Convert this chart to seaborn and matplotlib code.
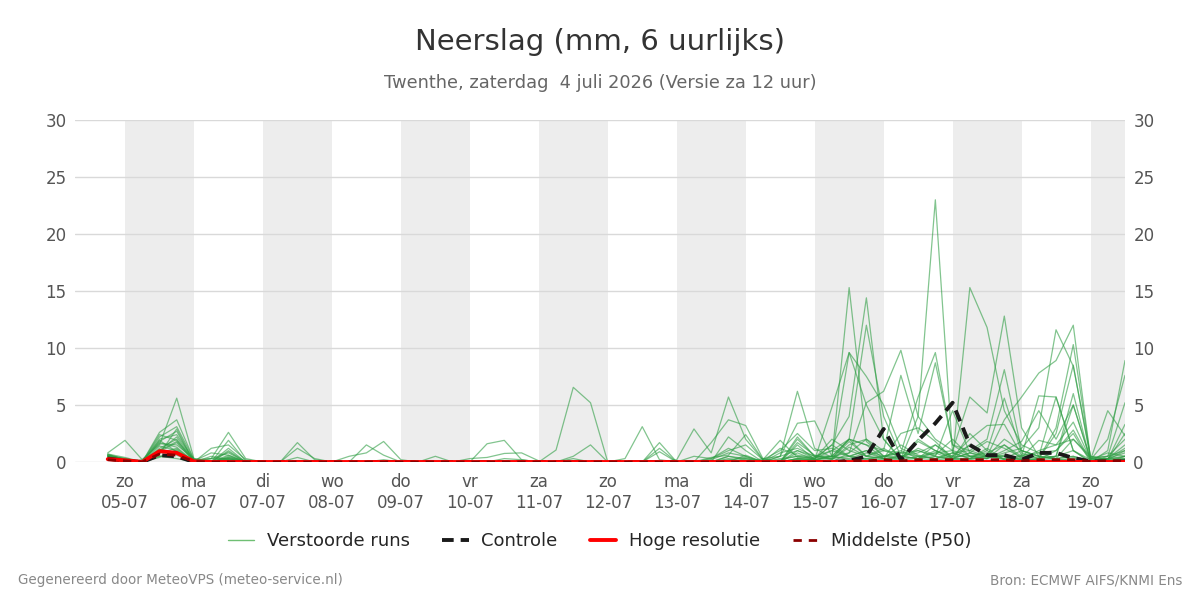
import numpy as np
import pandas as pd
import seaborn as sns
import matplotlib.pyplot as plt
from matplotlib.lines import Line2D

# 6-uurlijkse tijdstappen, in dagen t.o.v. zo 05-07 00:00 (eerste stap za 04-07 18:00)
n_stappen = 60
dagen = [-0.25 + 0.25 * i for i in range(n_stappen)]

dag_namen = ["zo", "ma", "di", "wo", "do", "vr", "za", "zo", "ma", "di", "wo", "do", "vr", "za", "zo"]
datums = ["05-07", "06-07", "07-07", "08-07", "09-07", "10-07", "11-07", "12-07",
          "13-07", "14-07", "15-07", "16-07", "17-07", "18-07", "19-07"]

z = [0.0] * 10  # blok van 10 droge tijdstappen

# verstoorde runs (ensemble leden), 60 waarden per run
run01 = [0.8, 1.9, 0.2, 1.5, 5.6, 0.3, 0.0, 0.4, 0.1, 0.0] + [0, 0, 0, 0, 0, 0, 0.2, 0, 0, 0] + z + \
        [0, 0, 0, 0, 0, 0, 0.5, 0.3, 0, 0.5] + [6.2, 1.2, 0.4, 15.3, 1.8, 0.5, 1.0, 0.3, 1.5, 0.3] + \
        [0.8, 0.4, 0.6, 0.2, 0, 0, 0.4, 0, 0.2, 1.0]
run02 = [0.6, 0.3, 0.0, 2.6, 3.7, 0.2, 0.3, 2.6, 0.3, 0] + z + [0, 0, 0, 0, 0, 0, 1.05, 6.55, 5.2, 0] + \
        [0, 0, 0, 0, 0, 0, 0, 0, 0, 0.3] + [0.5, 0.3, 1.5, 4.0, 14.4, 2.0, 0.2, 0.5, 0.8, 0.2] + \
        [1.5, 0.5, 0.3, 1.0, 0.5, 0.3, 0, 0, 0.3, 0.5]
run03 = [0.5, 0.2, 0, 2.2, 3.1, 0.2, 0, 1.9, 0.1, 0] + [0, 1.7, 0.2, 0, 0, 0, 0, 0, 0, 0] + z + \
        [0, 0, 0, 0, 0, 0, 0.2, 0.4, 0, 0] + [0.8, 0.2, 4.8, 9.6, 5.0, 2.0, 0.3, 4.0, 23.0, 0.8] + \
        [0.3, 1.0, 0.2, 0, 0.3, 3.0, 10.3, 0.4, 0.5, 2.0]
run04 = [0.7, 0.4, 0, 1.8, 2.7, 0, 1.2, 1.5, 0.2, 0] + [0, 0, 0, 0, 0, 1.5, 0.6, 0, 0, 0] + \
        [0, 0, 1.6, 1.9, 0.2, 0, 0, 0, 0, 0] + [0.3, 3.1, 0.2, 0, 0, 0, 0, 0, 0.3, 0.5] + \
        [3.4, 3.6, 0.5, 2.0, 12.0, 4.0, 0.5, 0.3, 1.0, 0.3] + [15.3, 11.8, 4.5, 1.5, 0.8, 0.3, 2.0, 0.3, 0, 0.5]
run05 = [0.6, 0.2, 0, 1.2, 2.0, 0, 0, 1.2, 0, 0] + [0, 0, 0, 0, 0.5, 0.8, 1.8, 0.2, 0, 0] + z + \
        [0, 0, 0, 0.2, 2.9, 0.8, 5.7, 2.0, 0.2, 0] + [0.3, 0.2, 0.5, 0.8, 5.2, 6.2, 9.8, 4.0, 2.0, 1.0] + \
        [5.7, 4.3, 12.8, 3.0, 0.5, 0.2, 0.3, 0, 1.0, 8.9]
run06 = [0.4, 0, 0.2, 1.6, 1.5, 0.3, 0, 0.5, 0, 0] + [0, 1.2, 0.3, 0, 0, 0, 0, 0, 0, 0] + \
        [0, 0.3, 0.4, 0.75, 0.8, 0.1, 0, 0, 0, 0] + [0, 0, 0, 0, 0, 1.7, 3.7, 3.2, 0.3, 0] + \
        [2.0, 0.5, 0.3, 2.0, 1.5, 1.0, 7.6, 2.5, 8.7, 1.5] + [1.0, 2.0, 8.1, 1.0, 0.5, 5.7, 1.0, 0.2, 2.0, 7.6]
run07 = [0.5, 0.3, 0, 1.0, 1.8, 0.1, 0.3, 0.8, 0, 0] + z + z + \
        [0, 0, 1.7, 0, 0, 0, 0, 0, 0, 0.8] + [1.2, 0.5, 0.5, 9.6, 7.5, 5.0, 1.2, 0.5, 0.3, 0.8] + \
        [1.0, 0.5, 3.7, 5.7, 7.8, 8.9, 12.0, 0.3, 0.5, 5.2]
run08 = [0.3, 0, 0, 2.0, 2.4, 0.2, 0, 0.3, 0, 0] + [0, 0, 0, 0, 0, 0, 0, 0, 0, 0.5] + \
        [0, 0, 0, 0, 0, 0, 0, 0.5, 1.5, 0] + [0, 0, 0, 0, 0, 0, 2.2, 1.0, 0, 0] + \
        [0.2, 0, 0.2, 1.5, 2.0, 0.5, 0.8, 5.7, 9.6, 1.5] + [0.5, 0.3, 0.8, 1.2, 3.0, 11.6, 8.4, 0.5, 0.2, 3.3]
run09 = [0.5, 0.1, 0, 1.4, 1.0, 0, 0.5, 0.2, 0, 0] + z + z + \
        [0, 0, 1.2, 0, 0, 0.4, 0.6, 2.4, 0.2, 0] + [1.5, 0.2, 0, 0.8, 2.0, 1.0, 0.5, 1.0, 0.5, 0.2] + \
        [2.5, 1.0, 5.6, 0.8, 0.3, 0.5, 5.0, 0.2, 4.5, 2.3]
run10 = [0.6, 0.2, 0, 0.8, 1.2, 0, 0, 0.2, 0, 0] + z + z + \
        [0, 0, 0.9, 0, 0, 0.3, 1.0, 1.5, 0.2, 1.9] + [0.4, 0.3, 1.0, 2.0, 0.5, 0.3, 1.5, 0.6, 0.3, 0.5] + \
        [0.5, 0.3, 1.5, 0.5, 5.8, 5.7, 1.0, 0, 0.5, 1.0]
run11 = [0.3, 0, 0, 1.0, 2.2, 0.1, 0.8, 0.6, 0, 0] + z + z + \
        [0, 0, 0, 0, 0, 0, 0.5, 0.2, 0, 0] + [2.2, 0.5, 1.0, 0.5, 0.3, 0.5, 0.8, 1.0, 0.5, 4.5] + \
        [0.8, 0.5, 0.2, 0.5, 0.3, 2.5, 8.5, 0.3, 0.3, 1.5]
run12 = [0.2, 0, 0, 0.5, 0.8, 0, 0, 0.3, 0, 0] + z + [0, 0, 0, 0, 0, 0, 0, 0.3, 0, 0] + \
        [0, 0, 0, 0, 0, 0.2, 0.8, 0.5, 0, 1.2] + [0.6, 0.4, 0.3, 1.8, 0.5, 1.2, 0.3, 1.8, 1.0, 0.3] + \
        [0.8, 1.8, 1.2, 0.4, 1.9, 1.5, 3.5, 0.2, 0.8, 0.5]
run13 = [0.6, 0.3, 0, 1.7, 1.3, 0, 0, 0.9, 0, 0] + z + z + \
        [0, 0, 0, 0, 0, 0, 0, 0.3, 0, 0.5] + [1.0, 0.3, 2.0, 1.0, 0.5, 0.3, 0.3, 2.0, 1.0, 0.5] + \
        [2.0, 3.2, 3.3, 0.6, 0.8, 1.0, 2.8, 0.1, 0.2, 2.5]
run14 = [0.4, 0, 0.1, 0.9, 1.7, 0, 0, 0.6, 0, 0] + [0, 0.4, 0, 0, 0, 0, 0, 0, 0, 0] + z + \
        [0, 0, 0, 0, 0.5, 0.3, 1.2, 0.5, 0, 0] + [0.3, 0.2, 0.5, 2.0, 1.5, 0.3, 2.5, 3.0, 1.8, 0.3] + \
        [0.3, 0.3, 1.0, 1.8, 4.5, 2.0, 5.0, 0.2, 0.3, 1.2]
run15 = [0.7, 0.2, 0, 2.4, 1.9, 0.2, 0, 1.0, 0, 0] + z + [0, 0, 0, 0.3, 0.2, 0, 0, 0, 0, 0] + \
        [0, 0, 0, 0, 0, 0, 0.3, 0, 0, 0.2] + [0.5, 0.3, 1.5, 0.5, 0.2, 0.5, 0.3, 1.2, 0.6, 2.0] + \
        [0.5, 0.5, 0.5, 0.3, 1.0, 1.5, 2.0, 0.5, 0.2, 0.5]
run16 = [0.5, 0.2, 0, 1.1, 0.6, 0, 0.3, 0.3, 0, 0] + z + z + \
        [0, 0, 0, 0, 0, 0, 0, 0.6, 0, 0] + [0.2, 0.2, 0.3, 0.5, 1.0, 0.3, 0.5, 0.8, 1.5, 0.5] + \
        [1.5, 0.5, 2.0, 1.0, 0.5, 0.3, 0.5, 0.1, 0.3, 0.3]
run17 = [0.3, 0.1, 0, 0.7, 2.9, 0, 0, 0.2, 0, 0] + z + z + z + \
        [1.0, 0.5, 0.5, 0.3, 0.8, 0.3, 0.2, 0.3, 0.5, 0.2] + [0.3, 0.5, 0.5, 0.2, 0.3, 0.5, 1.0, 0, 0.2, 0.2]
run18 = [0.4, 0, 0, 0.4, 1.1, 0, 0, 0, 0, 0] + z + z + [0, 0, 0, 0, 0, 0, 0, 0, 0.2, 1.0] + \
        [2.5, 1.0, 1.2, 0.5, 1.0, 0.5, 0.5, 0.3, 0.8, 1.0] + [0.5, 0.8, 1.5, 0.3, 0.2, 1.0, 2.5, 0, 0.3, 0.8]
run19 = [0.6, 0.2, 0, 1.9, 0.9, 0.1, 0, 0.4, 0, 0] + z + z + z + \
        [1.7, 0.6, 0.2, 1.3, 0.5, 1.0, 0.8, 0.5, 0.3, 0.8] + [0.3, 1.2, 0.2, 0.6, 0.4, 0.5, 6.0, 0.1, 0.1, 0.3]
run20 = [0.5, 0, 0, 0.5, 0.3, 0, 0, 0, 0, 0] + z + z + z + \
        [0.3, 0.2, 0.5, 0.2, 0.3, 0.2, 0.5, 0.3, 0.2, 0.3] + [0.2, 0.5, 0.3, 0.2, 0.2, 0.3, 0.5, 0, 0.1, 0.2]

runs = [run01, run02, run03, run04, run05, run06, run07, run08, run09, run10,
        run11, run12, run13, run14, run15, run16, run17, run18, run19, run20]

controle = [0.3, 0.1, 0.0, 0.6, 0.5, 0.0] + [0.0] * 37 + \
           [0.1, 0.5, 2.9, 0.2, 1.9, 3.4, 5.2, 1.5, 0.6, 0.6, 0.2, 0.8, 0.8, 0.35, 0.05, 0.05, 0.05]
hoge_resolutie = [0.25, 0.15, 0.0, 0.95, 0.8, 0.05] + [0.0] * 54
p50 = [0.2, 0.1, 0.0, 0.7, 0.6, 0.05] + [0.0] * 37 + \
      [0.1, 0.1, 0.2, 0.1, 0.2, 0.2, 0.2, 0.2, 0.2, 0.2, 0.1, 0.2, 0.2, 0.2, 0.05, 0.1, 0.1]

# long-form tabel voor seaborn
rows = []
for r, waarden in enumerate(runs):
    for d, w in zip(dagen, waarden):
        rows.append({"dag": d, "neerslag": w, "run": r})
df_runs = pd.DataFrame(rows)
df_det = pd.DataFrame({"dag": dagen, "controle": controle, "hres": hoge_resolutie, "p50": p50})

sns.set_theme(style="white")
plt.rcParams['font.family'] = ['DejaVu Sans']

fig = plt.figure(figsize=(12, 6), dpi=100)
ax = fig.add_axes([0.0625, 0.23, 0.875, 0.57])

# grijze banden voor om-en-om dagen
for d in range(0, 15, 2):
    ax.axvspan(d, d + 1, color="#ededed", lw=0, zorder=0)

for yv in range(0, 31, 5):
    ax.axhline(yv, color="#d9d9d9", lw=1, zorder=0.5)

sns.lineplot(data=df_runs, x="dag", y="neerslag", units="run", estimator=None,
             color="#2f9e44", alpha=0.6, lw=0.9, legend=False, ax=ax)
sns.lineplot(data=df_det, x="dag", y="controle", color="#1a1a1a", lw=2.8, linestyle=(0, (3, 1.8)), ax=ax)
sns.lineplot(data=df_det, x="dag", y="hres", color="red", lw=2.8, ax=ax)
sns.lineplot(data=df_det, x="dag", y="p50", color="#8b0000", lw=2, linestyle=(0, (3, 2.5)), ax=ax)

ax.set_xlim(-0.725, 14.5)
ax.set_ylim(0, 30)
ax.set_xticks(range(15))
ax.set_xticklabels([f"{a}\n{b}" for a, b in zip(dag_namen, datums)])
ax.set_yticks(range(0, 31, 5))
ax.set_xlabel("")
ax.set_ylabel("")
ax.tick_params(axis="x", length=5, width=1.2, color="#777777", labelsize=12, labelcolor="#555555", pad=3)
ax.tick_params(axis="y", length=0, labelsize=12, labelcolor="#555555", pad=6)
for s in ax.spines.values():
    s.set_visible(False)

ax2 = ax.twinx()
ax2.set_ylim(0, 30)
ax2.set_yticks(range(0, 31, 5))
ax2.tick_params(axis="y", length=0, labelsize=12, labelcolor="#555555", pad=6)
for s in ax2.spines.values():
    s.set_visible(False)
ax2.grid(False)

fig.text(0.5, 0.93, "Neerslag (mm, 6 uurlijks)", ha="center", va="center", fontsize=21, color="#333333")
fig.text(0.5, 0.862, "Twenthe, zaterdag  4 juli 2026 (Versie za 12 uur)", ha="center", va="center",
         fontsize=12.8, color="#666666")

handles = [
    Line2D([], [], color="#6fbf73", lw=1),
    Line2D([], [], color="#1a1a1a", lw=2.8, linestyle=(0, (3, 1.8))),
    Line2D([], [], color="red", lw=2.8),
    Line2D([], [], color="#8b0000", lw=2, linestyle=(0, (3, 2.5))),
]
labels = ["Verstoorde runs", "Controle", "Hoge resolutie", "Middelste (P50)"]
fig.legend(handles, labels, loc="center", bbox_to_anchor=(0.5, 0.098), ncol=4, frameon=False,
           fontsize=13, handlelength=1.45, handletextpad=0.7, columnspacing=1.8)

fig.text(0.015, 0.033, "Gegenereerd door MeteoVPS (meteo-service.nl)", ha="left", va="center",
         fontsize=9.75, color="#888888")
fig.text(0.985, 0.033, "Bron: ECMWF AIFS/KNMI Ens", ha="right", va="center", fontsize=9.75, color="#888888")

fig.savefig("out.png", dpi=100)
